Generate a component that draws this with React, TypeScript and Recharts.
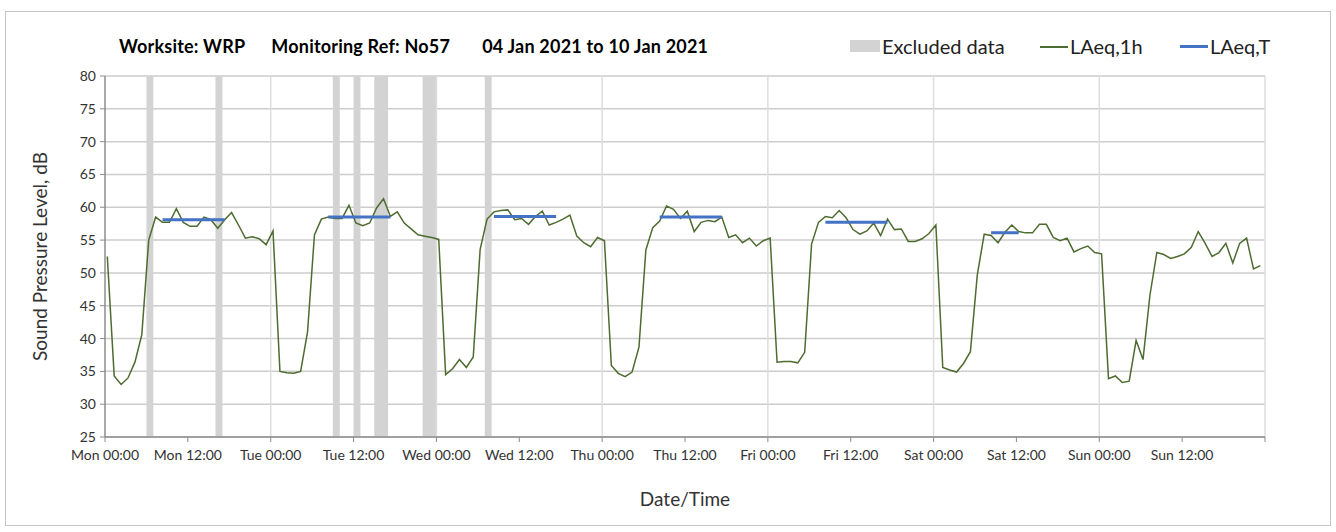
import React from 'react';
import { LineChart, Line, XAxis, YAxis, CartesianGrid, ReferenceArea, ReferenceLine } from 'recharts';

// readings are hourly, logged a little after the hour
const sampleOffset = 1 / 3;

const dayNames = ['Mon', 'Tue', 'Wed', 'Thu', 'Fri', 'Sat', 'Sun'];
const xTicks = [0, 12, 24, 36, 48, 60, 72, 84, 96, 108, 120, 132, 144, 156, 168];
const dayLines = [24, 48, 72, 96, 120, 144, 168];
const yTicks = [25, 30, 35, 40, 45, 50, 55, 60, 65, 70, 75, 80];

// LAeq,1h per day (00:00 .. 23:00)
const mon = [52.5, 34.3, 33.0, 34.0, 36.4, 40.6, 55.0, 58.5, 57.7, 57.7, 59.8, 57.7, 57.1, 57.1, 58.5, 58.1, 56.8, 58.1, 59.2, 57.3, 55.3, 55.5, 55.2, 54.3];
const tue = [56.4, 35.0, 34.8, 34.7, 35.0, 41.0, 55.8, 58.2, 58.5, 58.3, 58.3, 60.3, 57.6, 57.2, 57.6, 59.9, 61.3, 58.6, 59.3, 57.6, 56.7, 55.8, 55.6, 55.4];
const wed = [55.1, 34.5, 35.4, 36.8, 35.6, 37.2, 53.6, 58.2, 59.3, 59.5, 59.6, 58.1, 58.3, 57.4, 58.6, 59.4, 57.3, 57.7, 58.2, 58.8, 55.6, 54.6, 54.0, 55.4];
const thu = [54.9, 35.9, 34.7, 34.2, 34.9, 38.7, 53.5, 56.9, 57.9, 60.2, 59.7, 58.3, 59.4, 56.3, 57.7, 58.0, 57.8, 58.5, 55.4, 55.8, 54.6, 55.3, 54.1, 54.9];
const fri = [55.3, 36.4, 36.5, 36.5, 36.3, 37.9, 54.4, 57.7, 58.6, 58.4, 59.5, 58.4, 56.6, 55.9, 56.4, 57.6, 55.7, 58.2, 56.6, 56.7, 54.8, 54.8, 55.2, 56.0];
const sat = [57.3, 35.6, 35.2, 34.9, 36.2, 38.0, 49.7, 55.9, 55.7, 54.6, 56.2, 57.3, 56.3, 56.1, 56.1, 57.4, 57.4, 55.4, 54.9, 55.3, 53.2, 53.7, 54.1, 53.1];
const sun = [52.9, 33.9, 34.3, 33.3, 33.5, 39.7, 36.8, 46.6, 53.1, 52.8, 52.2, 52.5, 52.9, 53.9, 56.3, 54.5, 52.5, 53.1, 54.5, 51.5, 54.5, 55.3, 50.6, 51.1];

// LAeq,T working periods (hour index from Mon 00:00)
const periodStart = [8, 32, 56, 80, 104, 128];
const periodEnd = [17, 41, 65, 89, 113, 132];
const periodLevel = [58.1, 58.5, 58.6, 58.5, 57.7, 56.1];

// excluded hours
const excludedStart = [6, 16, 33, 36, 39, 46, 55];
const excludedEnd = [7, 17, 34, 37, 41, 48, 56];

const hourly = [...mon, ...tue, ...wed, ...thu, ...fri, ...sat, ...sun];
const rows = hourly.map((v, i) => ({ t: i + sampleOffset, laeq1h: v }));

const periodRows: { t: number; laeqT: number | null }[] = [];
periodStart.forEach((s, i) => {
  periodRows.push({ t: s + sampleOffset, laeqT: periodLevel[i] });
  periodRows.push({ t: periodEnd[i] + sampleOffset, laeqT: periodLevel[i] });
  periodRows.push({ t: periodEnd[i] + sampleOffset + 0.5, laeqT: null });
});

const fmtTick = (v: number) => {
  if (v >= 168) return '';
  const hh = String(v % 24).padStart(2, '0');
  return `${dayNames[Math.floor(v / 24)]} ${hh}:00`;
};

const font = 'Lato, "Noto Sans", sans-serif';
const axisGrey = '#8c8c8c';

export default function App() {
  return (
    <div style={{ position: 'absolute', left: 0, top: 0, width: 1336, height: 532, background: '#fff', fontFamily: font }}>
      <div style={{ position: 'absolute', left: 5, top: 11, width: 1324, height: 513, border: '1px solid #c4c4c4' }} />
      <div style={{ position: 'absolute', left: 119, top: 35, fontSize: 18, fontWeight: 700, color: '#000', whiteSpace: 'pre', lineHeight: '22px', letterSpacing: 0.2 }}>
        <span>Worksite: WRP</span>
        <span style={{ marginLeft: 26 }}>Monitoring Ref: No57</span>
        <span style={{ marginLeft: 32 }}>04 Jan 2021 to 10 Jan 2021</span>
      </div>
      <div style={{ position: 'absolute', left: 0, top: 34, width: 1336, height: 24, fontSize: 20, color: '#222', lineHeight: '24px' }}>
        <div style={{ position: 'absolute', left: 850, top: 6, width: 30, height: 12, background: '#d3d3d3' }} />
        <span style={{ position: 'absolute', left: 882 }}>Excluded data</span>
        <div style={{ position: 'absolute', left: 1040, top: 12, width: 28, height: 1.5, background: '#4e6b30' }} />
        <span style={{ position: 'absolute', left: 1070 }}>LAeq,1h</span>
        <div style={{ position: 'absolute', left: 1180, top: 11, width: 28, height: 3, background: '#4472c4' }} />
        <span style={{ position: 'absolute', left: 1210 }}>LAeq,T</span>
      </div>
      <div style={{ position: 'absolute', left: 0, top: 0 }}>
        <LineChart width={1336} height={532} data={rows} margin={{ top: 76, right: 71, bottom: 65, left: 0 }}>
          {excludedStart.map((s, i) => (
            <ReferenceArea key={'ex' + i} x1={s} x2={excludedEnd[i]} y1={25} y2={80} fill="#d3d3d3" fillOpacity={1} stroke="none" />
          ))}
          <CartesianGrid vertical={false} stroke="#cdcdcd" strokeWidth={1.5} />
          {dayLines.map((d) => (
            <ReferenceLine key={'d' + d} x={d} stroke="#dddddd" strokeWidth={1.5} />
          ))}
          <XAxis
            type="number"
            dataKey="t"
            domain={[0, 168]}
            ticks={xTicks}
            tickFormatter={fmtTick}
            interval={0}
            height={30}
            tickSize={5}
            tickMargin={8}
            stroke={axisGrey}
            axisLine={{ stroke: axisGrey, strokeWidth: 1.5 }}
            tickLine={{ stroke: axisGrey }}
            tick={{ fill: '#333', fontSize: 14, fontFamily: font }}
            label={{ value: 'Date/Time', position: 'bottom', offset: 26, fill: '#333', fontSize: 19, fontFamily: font }}
          />
          <YAxis
            type="number"
            domain={[25, 80]}
            ticks={yTicks}
            interval={0}
            width={105}
            tickSize={5}
            tickMargin={4}
            axisLine={{ stroke: axisGrey, strokeWidth: 1.5 }}
            tickLine={{ stroke: axisGrey }}
            tick={{ fill: '#333', fontSize: 14, fontFamily: font }}
            label={{ value: 'Sound Pressure Level, dB', angle: -90, position: 'insideLeft', offset: 40, fill: '#333', fontSize: 19, fontFamily: font, style: { textAnchor: 'middle' } }}
          />
          <Line type="linear" dataKey="laeq1h" stroke="#4e6b30" strokeWidth={1.5} dot={false} isAnimationActive={false} />
          <Line type="linear" data={periodRows} dataKey="laeqT" stroke="#4472c4" strokeWidth={3} dot={false} connectNulls={false} isAnimationActive={false} />
        </LineChart>
      </div>
    </div>
  );
}
